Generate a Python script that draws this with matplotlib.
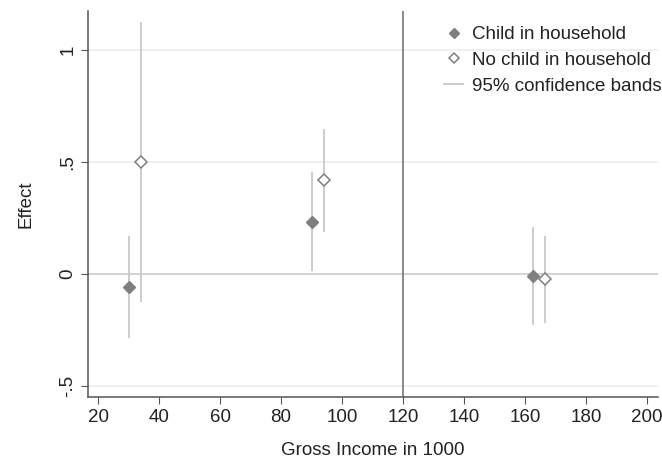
import matplotlib
matplotlib.use("Agg")
import matplotlib.pyplot as plt

plt.rcParams["font.family"] = ["Liberation Sans", "DejaVu Sans"]

# estimated effects by income
child_x = [30, 90, 162.5]
child_y = [-0.057, 0.234, -0.007]
child_lo = [-0.284, 0.013, -0.228]
child_hi = [0.17, 0.454, 0.211]

nochild_x = [34, 94, 166.5]
nochild_y = [0.5, 0.418, -0.024]
nochild_lo = [-0.124, 0.189, -0.217]
nochild_hi = [1.126, 0.647, 0.17]

threshold = 120

xticks = [20, 40, 60, 80, 100, 120, 140, 160, 180, 200]
yticks = [-0.5, 0, 0.5, 1]
ytick_labels = ["-.5", "0", ".5", "1"]

fig = plt.figure(figsize=(6.62, 4.63), dpi=100)
ax = fig.add_axes([0.133, 0.1425, 0.861, 0.834])

# grid lines
for y in [-0.5, 0.5, 1]:
    ax.axhline(y, color="#eeeeee", lw=1.2, zorder=0)
ax.axhline(0, color="#cccccc", lw=1.2, zorder=0)
ax.axvline(threshold, color="#777777", lw=1.2, zorder=1)

ci_color = "#c8c8c8"
ax.vlines(child_x, child_lo, child_hi, color=ci_color, lw=1.3, zorder=2)
ax.vlines(nochild_x, nochild_lo, nochild_hi, color=ci_color, lw=1.3, zorder=2)

ax.plot(child_x, child_y, linestyle="none", marker="D", ms=6.5,
        color="#7f7f7f", mec="#7f7f7f", zorder=3, label="Child in household")
ax.plot(nochild_x, nochild_y, linestyle="none", marker="D", ms=6.5,
        mfc="white", mec="#7f7f7f", mew=1.1, zorder=3, label="No child in household")
ax.plot([], [], color=ci_color, lw=1.3, label="95% confidence bands")

ax.set_xlim(16.7, 203.6)
ax.set_ylim(-0.549, 1.174)
ax.set_xticks(xticks)
ax.set_yticks(yticks)
ax.set_yticklabels(ytick_labels, rotation=90, va="center")
ax.tick_params(axis="both", labelsize=13.5, length=5, color="#555555", labelcolor="#222222")

for s in ["top", "right"]:
    ax.spines[s].set_visible(False)
for s in ["left", "bottom"]:
    ax.spines[s].set_color("#555555")
    ax.spines[s].set_linewidth(1.1)

ax.set_xlabel("Gross Income in 1000", fontsize=13.5, color="#222222", labelpad=12)
ax.set_ylabel("Effect", fontsize=13.5, color="#222222", labelpad=18)

leg = ax.legend(loc="upper right", frameon=False, fontsize=13.5, handlelength=1.0,
                handletextpad=0.46, labelspacing=0.46, borderaxespad=0.0,
                markerscale=0.85, bbox_to_anchor=(1.019, 0.98))
for t in leg.get_texts():
    t.set_color("#222222")

fig.savefig("out.png", dpi=100)
